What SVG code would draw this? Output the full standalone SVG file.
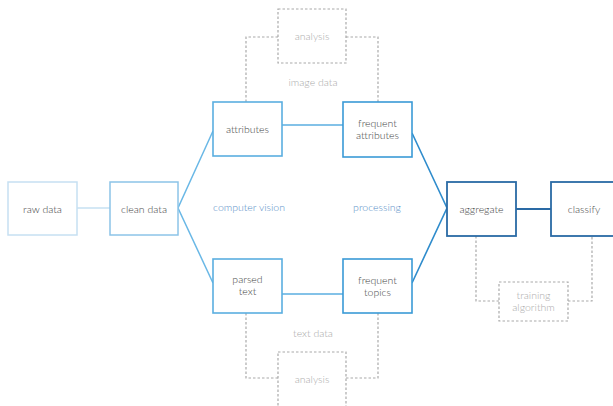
<svg xmlns="http://www.w3.org/2000/svg" width="613" height="406" viewBox="0 0 613 406">
<style>
text{font-family:Lato,"Open Sans","Liberation Sans",sans-serif;font-size:10.5px;font-weight:300;text-anchor:middle;dominant-baseline:central}
.lbl{fill:#444}
.grey{fill:#aaa}
.blue{fill:#5a8fc8}
.dash{fill:none;stroke:#aaa;stroke-width:1.2;stroke-dasharray:2.5 2}
.box{fill:#fff}
</style>
<rect width="613" height="406" fill="#fff"/>
<g id="connectors" fill="none">
<line x1="77" y1="208" x2="110" y2="208" stroke="#c6e0f2" stroke-width="1.5"/>
<polyline points="213,131 178,208 213,283" stroke="#6ab8e6" stroke-width="1.5"/>
<line x1="282" y1="125" x2="343" y2="125" stroke="#5aaee0" stroke-width="1.5"/>
<line x1="282" y1="294" x2="343" y2="294" stroke="#5aaee0" stroke-width="1.5"/>
<polyline points="412,133 447,208 412,283" stroke="#2f8ccc" stroke-width="1.6"/>
<line x1="516" y1="209" x2="551" y2="209" stroke="#2a6aa5" stroke-width="1.8"/>
<polyline class="dash" points="246,102 246,37 278,37"/>
<polyline class="dash" points="346,37 378,37 378,102"/>
<polyline class="dash" points="246,313 246,378 278,378"/>
<polyline class="dash" points="346,378 378,378 378,313"/>
<polyline class="dash" points="476,236 476,301 499,301"/>
<polyline class="dash" points="568,301 592,301 592,236"/>
</g>
<g id="raw-data"><rect class="box" x="8" y="182" width="69" height="53" stroke="#c6e0f2" stroke-width="1.5"/><text class="lbl" x="42.5" y="208.5">raw data</text></g>
<g id="clean-data"><rect class="box" x="110" y="182" width="68" height="53" stroke="#8cc4e8" stroke-width="1.5"/><text class="lbl" x="144" y="208.5">clean data</text></g>
<g id="attributes"><rect class="box" x="213" y="102" width="69" height="54" stroke="#5aaee0" stroke-width="1.6"/><text class="lbl" x="247.5" y="129">attributes</text></g>
<g id="frequent-attributes"><rect class="box" x="343" y="102" width="69" height="55" stroke="#3a9ad6" stroke-width="1.6"/><text class="lbl" x="377.5" y="123">frequent</text><text class="lbl" x="377.5" y="135">attributes</text></g>
<g id="parsed-text"><rect class="box" x="213" y="259" width="69" height="54" stroke="#5aaee0" stroke-width="1.6"/><text class="lbl" x="247.5" y="279">parsed</text><text class="lbl" x="247.5" y="291">text</text></g>
<g id="frequent-topics"><rect class="box" x="343" y="259" width="69" height="54" stroke="#3a9ad6" stroke-width="1.6"/><text class="lbl" x="377.5" y="280">frequent</text><text class="lbl" x="377.5" y="292">topics</text></g>
<g id="aggregate"><rect class="box" x="447" y="182" width="69" height="54" stroke="#2a6aa5" stroke-width="1.8"/><text class="lbl" x="481.5" y="209">aggregate</text></g>
<g id="classify"><rect class="box" x="551" y="182" width="70" height="54" stroke="#2a6aa5" stroke-width="1.8"/><text class="lbl" x="584" y="209">classify</text></g>
<g id="analysis-top"><rect class="box dash" x="278" y="9" width="68" height="54"/><text class="grey" x="312" y="36">analysis</text></g>
<g id="analysis-bottom"><rect class="box dash" x="278" y="352" width="68" height="60"/><text class="grey" x="312" y="379">analysis</text></g>
<g id="training-algorithm"><rect class="box dash" x="499" y="282" width="69" height="39"/><text class="grey" x="533.5" y="295">training</text><text class="grey" x="533.5" y="307">algorithm</text></g>
<g id="labels">
<text class="grey" x="313" y="82">image data</text>
<text class="grey" x="313" y="333">text data</text>
<text class="blue" x="249" y="207">computer vision</text>
<text class="blue" x="377" y="207">processing</text>
</g>
</svg>
